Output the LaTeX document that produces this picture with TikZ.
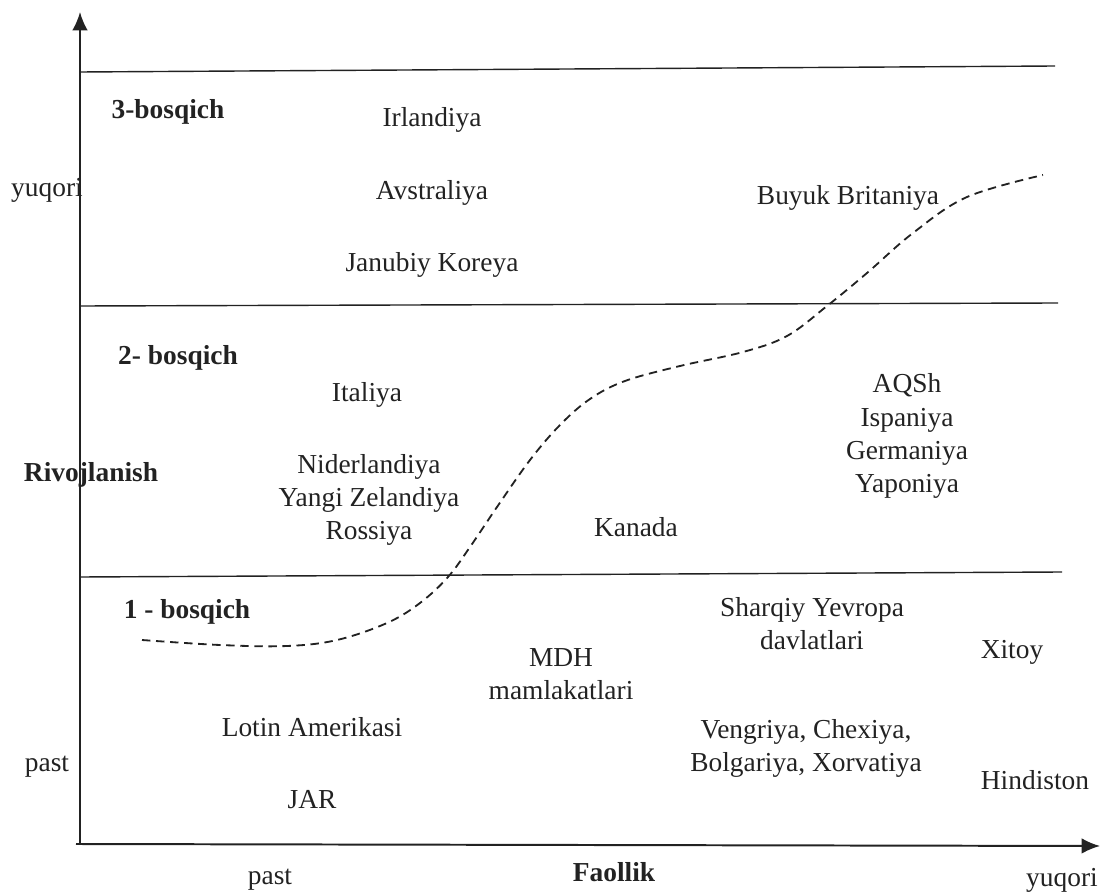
\documentclass[tikz,border=0pt]{standalone}
\usepackage{fontspec}
\setmainfont{Liberation Serif}
\usetikzlibrary{arrows.meta}
\definecolor{ink}{HTML}{222222}
\begin{document}
\begin{tikzpicture}[x=0.025cm,y=-0.025cm,
  lbl/.style={inner sep=0pt,text=ink,font=\fontsize{19.5}{23.5}\selectfont,align=center},
  blbl/.style={lbl,font=\fontsize{19.5}{23.5}\selectfont\bfseries},
  axis/.style={line width=1.4pt,draw=ink,-{Latex[length=13pt,width=11pt]}},
  band/.style={line width=1pt,draw=ink},
  trend/.style={line width=1.3pt,draw=ink,dash pattern=on 6pt off 4pt}]
\useasboundingbox (0,0) rectangle (1100,892);
% axes
\coordinate (o) at (80,844);
\coordinate (ytop) at (80,12);
\coordinate (xo) at (76,844);
\coordinate (xend) at (1100,846);
\draw[axis] (o) -- (ytop);
\draw[axis] (xo) -- (xend);
% stage boundaries
\coordinate (l3a) at (80,72);   \coordinate (l3b) at (1055,66);
\coordinate (l2a) at (80,306);  \coordinate (l2b) at (1058,303);
\coordinate (l1a) at (80,577);  \coordinate (l1b) at (1062,572);
\draw[band] (l3a) -- (l3b);
\draw[band] (l2a) -- (l2b);
\draw[band] (l1a) -- (l1b);
% trend curve
\draw[trend] plot[smooth,tension=0.6] coordinates {(142,640) (220,645) (287,646) (337,640) (387,623) (420,603) (448,577) (470,547) (497,507) (530,460) (560,425) (590,399) (625,381) (680,366) (743,352) (787,336) (827,306) (867,273) (913,233) (967,197) (1043,175)};
% axis labels
\node[lbl] (ytopl) at (47,190) {yuqori};
\node[blbl] (riv) at (91,475) {Rivojlanish};
\node[lbl] (ypast) at (47,767) {past};
\node[lbl] (xpast) at (270,880) {past};
\node[blbl] (faol) at (614,872) {Faollik};
\node[lbl] (xyuq) at (1062,880) {yuqori};
% stages
\node[blbl] (s3) at (168,112) {3-bosqich};
\node[blbl] (s2) at (178,358) {2- bosqich};
\node[blbl] (s1) at (187,612) {1 - bosqich};
% countries
\node[lbl] (irl) at (432,120) {Irlandiya};
\node[lbl] (avs) at (432,193) {Avstraliya};
\node[lbl] (jk) at (432,265) {Janubiy Koreya};
\node[lbl] (bb) at (848,198) {Buyuk Britaniya};
\node[lbl] (ita) at (367,395) {Italiya};
\node[lbl] (nid) at (369,500) {Niderlandiya\\Yangi Zelandiya\\Rossiya};
\node[lbl] (kan) at (636,527) {Kanada};
\node[lbl] (aqsh) at (907,436) {AQSh\\Ispaniya\\Germaniya\\Yaponiya};
\node[lbl] (shy) at (812,624) {Sharqiy Yevropa\\davlatlari};
\node[lbl] (xit) at (1012,652) {Xitoy};
\node[lbl] (mdh) at (561,674) {MDH\\mamlakatlari};
\node[lbl] (lot) at (312,727) {Lotin Amerikasi};
\node[lbl] (veng) at (806,748) {Vengriya, Chexiya,\\Bolgariya, Xorvatiya};
\node[lbl] (hin) at (1035,780) {Hindiston};
\node[lbl] (jar) at (312,800) {JAR};
\end{tikzpicture}
\end{document}
